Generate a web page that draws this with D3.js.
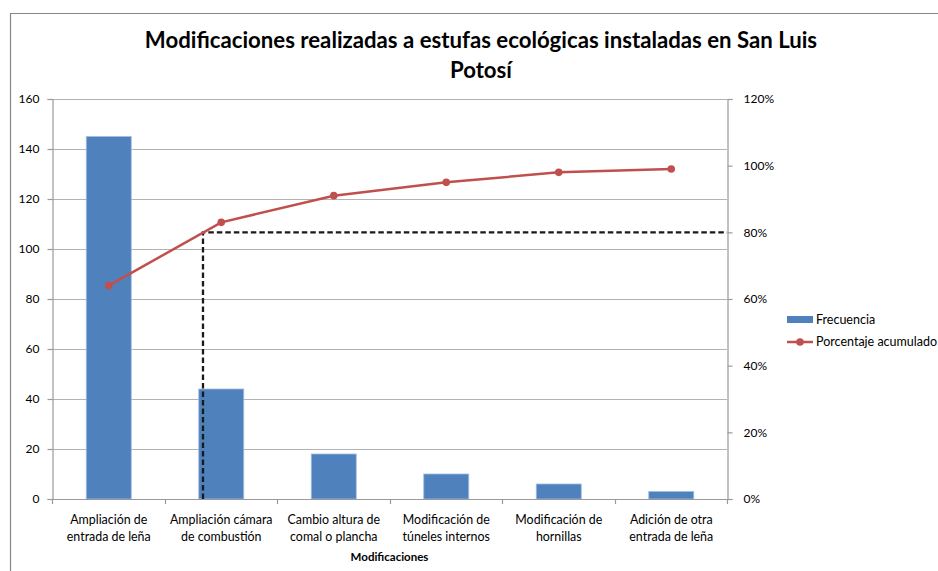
<!DOCTYPE html>
<html>
<head>
<meta charset="utf-8">
<script src="https://cdn.jsdelivr.net/npm/d3@7"></script>
<style>
  body { margin: 0; background: #fff; }
  text { font-family: Lato, "Open Sans", sans-serif; fill: #000; }
</style>
</head>
<body>
<svg id="chart" width="938" height="571"></svg>
<script>
const categories = [
  ["Ampliación de", "entrada de leña"],
  ["Ampliación cámara", "de combustión"],
  ["Cambio altura de", "comal o plancha"],
  ["Modificación de", "túneles internos"],
  ["Modificación de", "hornillas"],
  ["Adición de otra", "entrada de leña"]
];
const frecuencia = [145, 44, 18, 10, 6, 3];
const acumulado = [64, 83, 91, 95, 98, 99];
const leftTicks = [0, 20, 40, 60, 80, 100, 120, 140, 160];
const rightTicks = [0, 20, 40, 60, 80, 100, 120];
const threshold = 80;
const titleLines = ["Modificaciones realizadas a estufas ecológicas instaladas en San Luis", "Potosí"];
const xTitle = "Modificaciones";
const legendLabels = ["Frecuencia", "Porcentaje acumulado"];

const svg = d3.select("#chart");
const m = { left: 52, right: 727, top: 99, bottom: 499 };

// chart border
svg.append("path")
  .attr("d", `M10.5,571 V13.5 H938`)
  .attr("fill", "none").attr("stroke", "#878787").attr("stroke-width", 1.2);

const x = d3.scaleBand().domain(d3.range(categories.length)).range([m.left, m.right]).paddingInner(0.6).paddingOuter(0.3);
const xc = i => x(i) + x.bandwidth() / 2;
const y = d3.scaleLinear().domain([0, 160]).range([m.bottom, m.top]);
const y2 = d3.scaleLinear().domain([0, 120]).range([m.bottom, m.top]);

// gridlines
svg.append("g").selectAll("line").data(leftTicks.filter(d => d > 0)).join("line")
  .attr("x1", m.left).attr("x2", m.right)
  .attr("y1", d => Math.round(y(d)) + 0.5).attr("y2", d => Math.round(y(d)) + 0.5)
  .attr("stroke", "#b3b3b3").attr("stroke-width", 1.2);

// bars
svg.append("g").selectAll("rect").data(frecuencia).join("rect")
  .attr("x", (d, i) => x(i) + 0.5).attr("width", x.bandwidth())
  .attr("y", d => y(d)).attr("height", d => y(0) - y(d))
  .attr("fill", "#4f81bd").attr("stroke", "#9fbde3").attr("stroke-width", 0.8);

// left axis
const gl = svg.append("g").attr("transform", `translate(${m.left + 0.5},0)`)
  .call(d3.axisLeft(y).tickValues(leftTicks).tickSize(5).tickPadding(8));
gl.selectAll("path, line").attr("stroke", "#9a9a9a").attr("stroke-width", 1.2);
gl.selectAll("text").attr("font-size", 12).attr("font-family", "Lato, sans-serif").attr("fill", "#222");

// right axis
const gr = svg.append("g").attr("transform", `translate(${m.right + 0.5},0)`)
  .call(d3.axisRight(y2).tickValues(rightTicks).tickSize(5).tickPadding(11).tickFormat(d => d + "%"));
gr.selectAll("path, line").attr("stroke", "#9a9a9a").attr("stroke-width", 1.2);
gr.selectAll("text").attr("font-size", 12).attr("font-family", "Lato, sans-serif").attr("fill", "#222");

// bottom axis
const xEdges = d3.scaleLinear().domain([0, categories.length]).range([m.left, m.right]);
const gb = svg.append("g");
gb.append("line").attr("x1", m.left).attr("x2", m.right + 5)
  .attr("y1", m.bottom + 0.5).attr("y2", m.bottom + 0.5).attr("stroke", "#9a9a9a").attr("stroke-width", 1.2);
gb.selectAll("line.tk").data(d3.range(categories.length + 1)).join("line").attr("class", "tk")
  .attr("x1", d => Math.round(xEdges(d)) + 0.5).attr("x2", d => Math.round(xEdges(d)) + 0.5)
  .attr("y1", m.bottom).attr("y2", m.bottom + 5).attr("stroke", "#9a9a9a").attr("stroke-width", 1.2);
const lbl = gb.selectAll("text.cat").data(categories).join("text").attr("class", "cat")
  .attr("text-anchor", "middle").attr("font-size", 12.4).attr("fill", "#222");
lbl.each(function(d, i) {
  const t = d3.select(this);
  d.forEach((line, k) => t.append("tspan").attr("x", xc(i) + 0.5).attr("y", 524 + k * 17).text(line));
});

// axis title
svg.append("text").attr("x", (m.left + m.right) / 2).attr("y", 561)
  .attr("text-anchor", "middle").attr("font-size", 11.5).attr("font-weight", "bold").text(xTitle);

// threshold dashed lines
const i0 = acumulado.findIndex(v => v >= threshold);
const frac = (threshold - acumulado[i0 - 1]) / (acumulado[i0] - acumulado[i0 - 1]);
const xCross = xc(i0 - 1) + frac * (xc(i0) - xc(i0 - 1));
svg.append("path")
  .attr("d", `M${xCross},${y(0)} V${y2(threshold)} H${m.right}`)
  .attr("fill", "none").attr("stroke", "#1a1a1a").attr("stroke-width", 2.3).attr("stroke-dasharray", "5.5,3");

// cumulative line
const line = d3.line().x((d, i) => xc(i) + 0.5).y(d => y2(d));
svg.append("path").datum(acumulado).attr("d", line)
  .attr("fill", "none").attr("stroke", "#c0504d").attr("stroke-width", 2.5);
svg.append("g").selectAll("circle").data(acumulado).join("circle")
  .attr("cx", (d, i) => xc(i) + 0.5).attr("cy", d => y2(d)).attr("r", 3.8).attr("fill", "#c0504d");

// title
svg.append("g").selectAll("text").data(titleLines).join("text")
  .attr("x", 481).attr("y", (d, i) => 48 + i * 30)
  .attr("text-anchor", "middle").attr("font-size", 22.2).attr("font-weight", "bold").text(d => d);

// legend
const lg = svg.append("g");
lg.append("rect").attr("x", 787).attr("y", 316).attr("width", 26).attr("height", 7).attr("fill", "#4f81bd");
lg.append("line").attr("x1", 787).attr("x2", 813).attr("y1", 342).attr("y2", 342)
  .attr("stroke", "#c0504d").attr("stroke-width", 2.5);
lg.append("circle").attr("cx", 800).attr("cy", 342).attr("r", 3.8).attr("fill", "#c0504d");
lg.selectAll("text").data(legendLabels).join("text")
  .attr("x", 816).attr("y", (d, i) => 320 + i * 22).attr("dy", "0.35em")
  .attr("font-size", 12.5).attr("fill", "#222").text(d => d);
</script>
</body>
</html>
